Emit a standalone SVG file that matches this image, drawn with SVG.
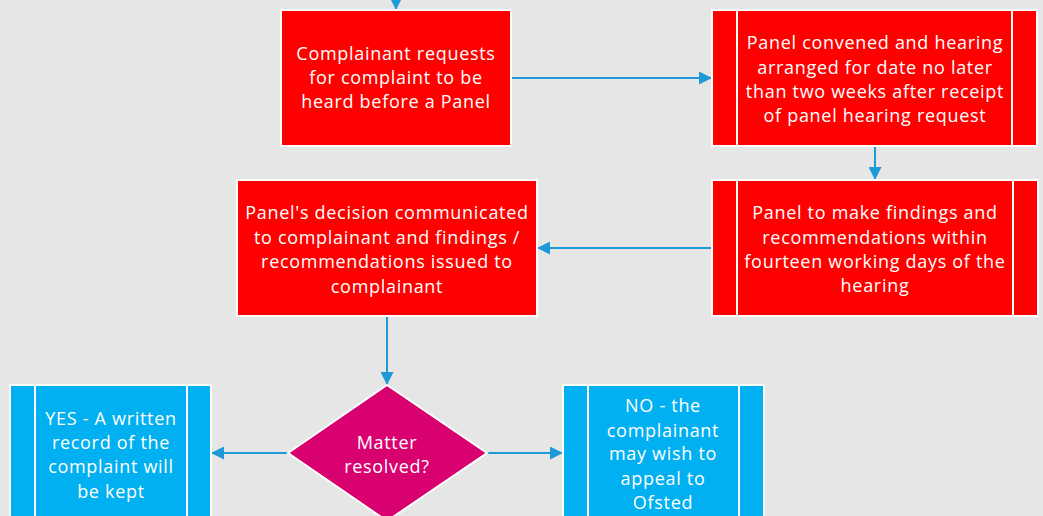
<svg xmlns="http://www.w3.org/2000/svg" width="1043" height="516" viewBox="0 0 1043 516">
<defs>
<marker id="ah" viewBox="0 0 12 12" refX="12" refY="6" markerWidth="13" markerHeight="13" markerUnits="userSpaceOnUse" orient="auto">
<path d="M0,0 L12,6 L0,12 Z" fill="#1E9BD7"/>
</marker>
<style>
.red{fill:#FF0000;stroke:#FFFFFF;stroke-width:2}
.blue{fill:#00B0F0;stroke:#FFFFFF;stroke-width:2}
.dia{fill:#D9006F;stroke:#FFFFFF;stroke-width:2}
.div{stroke:#FFFFFF;stroke-width:2}
.t{font-family:"Open Sans","Noto Sans",sans-serif;font-size:18px;letter-spacing:0.7px;fill:#FFFFFF;text-anchor:middle}
.c{fill:none;stroke:#1E9BD7;stroke-width:2;marker-end:url(#ah)}
</style>
</defs>
<rect width="1043" height="516" fill="#E6E6E6"/>
<g id="connectors">
<line class="c" x1="396" y1="-20" x2="396" y2="10"/>
<line class="c" x1="511" y1="78" x2="712" y2="78"/>
<line class="c" x1="875" y1="146" x2="875" y2="180"/>
<line class="c" x1="712" y1="248" x2="537" y2="248"/>
<line class="c" x1="387" y1="316" x2="387" y2="385"/>
<line class="c" x1="288" y1="453" x2="211" y2="453"/>
<line class="c" x1="487" y1="453" x2="563" y2="453"/>
</g>
<g id="n1">
<rect class="red" x="281" y="10" width="230" height="136"/>
<text class="t"><tspan x="396" y="60">Complainant requests</tspan><tspan x="396" y="84">for complaint to be</tspan><tspan x="396" y="108">heard before a Panel</tspan></text>
</g>
<g id="n2">
<rect class="red" x="712" y="10" width="325" height="136"/>
<line class="div" x1="737" y1="10" x2="737" y2="146"/>
<line class="div" x1="1012" y1="10" x2="1012" y2="146"/>
<text class="t"><tspan x="875" y="49">Panel convened and hearing</tspan><tspan x="875" y="74">arranged for date no later</tspan><tspan x="875" y="98">than two weeks after receipt</tspan><tspan x="875" y="122">of panel hearing request</tspan></text>
</g>
<g id="n3">
<rect class="red" x="712" y="180" width="326" height="136"/>
<line class="div" x1="737" y1="180" x2="737" y2="316"/>
<line class="div" x1="1013" y1="180" x2="1013" y2="316"/>
<text class="t"><tspan x="875" y="219">Panel to make findings and</tspan><tspan x="875" y="244">recommendations within</tspan><tspan x="875" y="268">fourteen working days of the</tspan><tspan x="875" y="292">hearing</tspan></text>
</g>
<g id="n4">
<rect class="red" x="237" y="180" width="300" height="136"/>
<text class="t"><tspan x="387" y="219">Panel's decision communicated</tspan><tspan x="387" y="244">to complainant and findings /</tspan><tspan x="387" y="268">recommendations issued to</tspan><tspan x="387" y="293">complainant</tspan></text>
</g>
<g id="n5">
<polygon class="dia" points="387,385 487,453 387,521 288,453"/>
<text class="t"><tspan x="387" y="449">Matter</tspan><tspan x="387" y="473">resolved?</tspan></text>
</g>
<g id="n6">
<rect class="blue" x="10" y="385" width="201" height="150"/>
<line class="div" x1="35" y1="385" x2="35" y2="535"/>
<line class="div" x1="187" y1="385" x2="187" y2="535"/>
<text class="t"><tspan x="111" y="425">YES - A written</tspan><tspan x="111" y="449">record of the</tspan><tspan x="111" y="473">complaint will</tspan><tspan x="111" y="498">be kept</tspan></text>
</g>
<g id="n7">
<rect class="blue" x="563" y="385" width="201" height="150"/>
<line class="div" x1="588" y1="385" x2="588" y2="535"/>
<line class="div" x1="739" y1="385" x2="739" y2="535"/>
<text class="t"><tspan x="663" y="412">NO - the</tspan><tspan x="663" y="437">complainant</tspan><tspan x="663" y="460">may wish to</tspan><tspan x="663" y="485">appeal to</tspan><tspan x="663" y="509">Ofsted</tspan></text>
</g>
</svg>
